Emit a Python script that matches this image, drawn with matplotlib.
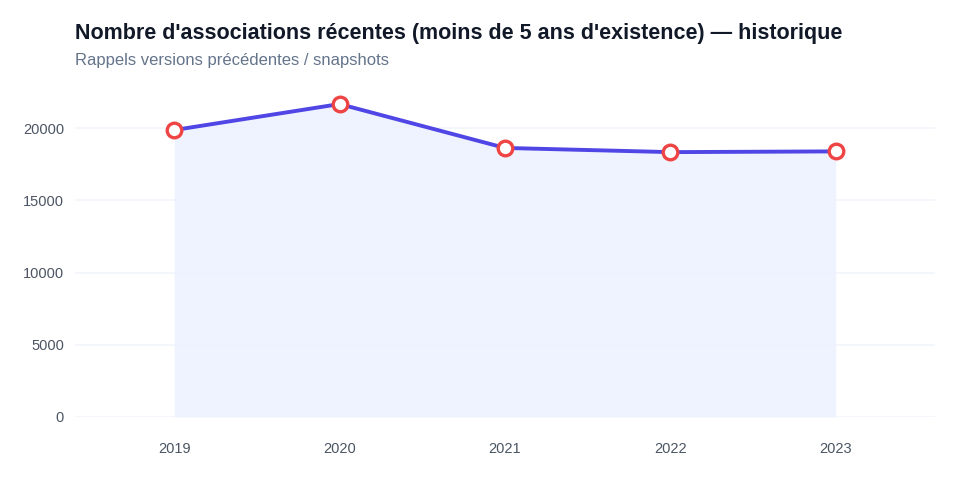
import matplotlib
matplotlib.use('Agg')
import matplotlib.pyplot as plt

years = ['2019', '2020', '2021', '2022', '2023']
counts = [19880, 21680, 18640, 18350, 18400]
y_ticks = [0, 5000, 10000, 15000, 20000]

plt.rcParams['font.family'] = ['Liberation Sans', 'DejaVu Sans']

fig = plt.figure(figsize=(9.6, 4.8), dpi=100)
ax = fig.add_axes([75 / 960, 1 - 417 / 480, 860 / 960, 332 / 480])

x = list(range(len(years)))
ax.fill_between(x, counts, 0, color='#eef2ff', alpha=0.9, lw=0, zorder=1)
ax.plot(x, counts, color='#4f46e5', lw=2.8, zorder=3,
        marker='o', ms=10.5, mfc='white', mec='#ef4444', mew=2.4)

ax.set_xlim(-0.6, 4.6)
ax.set_ylim(0, 23000)
ax.set_xticks(x, years)
ax.set_yticks(y_ticks, [str(v) for v in y_ticks])
ax.grid(axis='y', color='#f1f5f9', lw=1.2, zorder=0)
ax.set_axisbelow(True)
for s in ax.spines.values():
    s.set_visible(False)
ax.tick_params(length=0, colors='#4b5563', labelsize=10.5)
ax.tick_params(axis='x', pad=18)
ax.tick_params(axis='y', pad=8)

fig.text(75 / 960, 1 - 33 / 480, "Nombre d'associations récentes (moins de 5 ans d'existence) — historique",
         fontsize=15.5, fontweight='bold', color='#111827', va='center')
fig.text(75 / 960, 1 - 60 / 480, 'Rappels versions précédentes / snapshots',
         fontsize=12, color='#64748b', va='center')

fig.savefig('out.png', dpi=100, facecolor='white')
